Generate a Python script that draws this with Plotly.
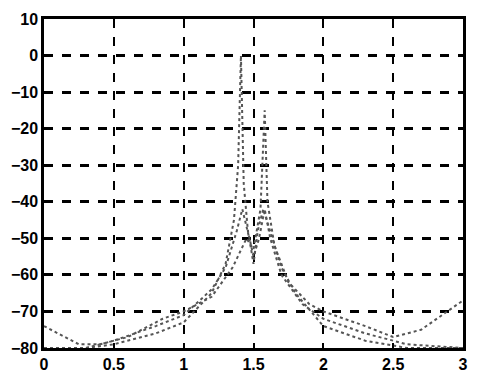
import plotly.graph_objects as go

# Curve 1: main peak near 1.41
c1_x = [0, 0.3, 0.5, 0.8, 1.0, 1.2, 1.3, 1.36, 1.39, 1.41, 1.43, 1.46, 1.5, 1.54, 1.58, 1.62, 1.7, 1.85, 2.0, 2.3, 2.6, 3.0]
c1_y = [-80, -80, -79, -76, -73, -65, -57, -45, -30, 0, -35, -48, -55, -50, -42, -50, -60, -68, -72, -76, -79, -80]
# Curve 2: secondary peak near 1.58
c2_x = [0, 0.1, 0.25, 0.4, 0.6, 0.85, 1.0, 1.2, 1.35, 1.45, 1.5, 1.55, 1.58, 1.6, 1.65, 1.75, 1.9, 2.0, 2.3, 2.5, 2.7, 2.85, 3.0]
c2_y = [-74, -76, -79, -79, -77, -72, -70, -66, -58, -50, -53, -42, -15, -40, -52, -62, -68, -70, -74, -77, -75, -71, -67]
# Curve 3
c3_x = [0, 0.3, 0.5, 0.8, 1.0, 1.2, 1.3, 1.38, 1.42, 1.47, 1.5, 1.53, 1.57, 1.62, 1.7, 1.8, 2.0, 2.3, 2.6, 3.0]
c3_y = [-80, -80, -78, -74, -71, -64, -58, -48, -42, -50, -57, -48, -42, -48, -58, -65, -74, -78, -80, -80]

x_ticks = [0, 0.5, 1, 1.5, 2, 2.5, 3]
x_labels = ["0", "0.5", "1", "1.5", "2", "2.5", "3"]
y_ticks = [-80, -70, -60, -50, -40, -30, -20, -10, 0, 10]

fig = go.Figure()
for xs, ys in [(c1_x, c1_y), (c2_x, c2_y), (c3_x, c3_y)]:
    fig.add_trace(go.Scatter(x=xs, y=ys, mode="lines",
                             line=dict(color="#555555", width=2, dash="dot"),
                             showlegend=False, hoverinfo="skip"))

axis_common = dict(showline=True, linecolor="black", linewidth=2.5, mirror=True,
                   showgrid=True, gridcolor="black", griddash="dash",
                   zeroline=False, ticks="inside", ticklen=4, tickcolor="black",
                   tickfont=dict(family="Liberation Sans", size=16, color="black", weight="bold"))

fig.update_xaxes(range=[0, 3], tickvals=x_ticks, ticktext=x_labels, gridwidth=1.5, **axis_common)
fig.update_yaxes(range=[-80, 10], tickvals=y_ticks, gridwidth=2.5, **axis_common)

fig.update_layout(width=479, height=384, margin=dict(l=32, r=11, t=15, b=24),
                  paper_bgcolor="white", plot_bgcolor="white")

fig.write_html("out.html")
